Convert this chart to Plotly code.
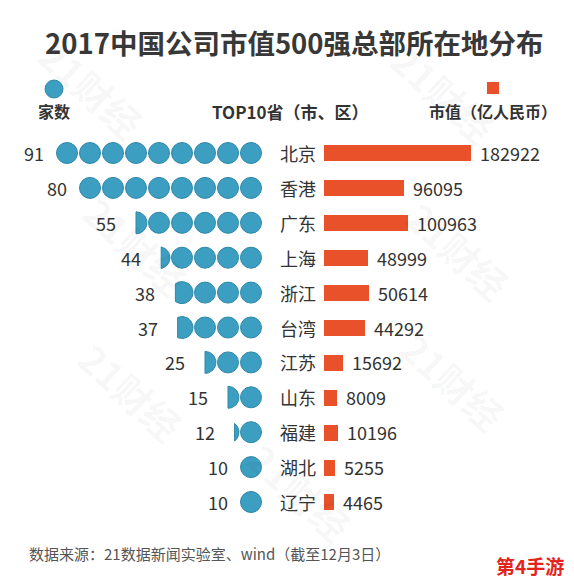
import math
import plotly.graph_objects as go

# ---------------- data ----------------
provinces = ["北京", "香港", "广东", "上海", "浙江", "台湾", "江苏", "山东", "福建", "湖北", "辽宁"]
company_counts = [91, 80, 55, 44, 38, 37, 25, 15, 12, 10, 10]
market_values = [182922, 96095, 100963, 48999, 50614, 44292, 15692, 8009, 10196, 5255, 4465]
companies_per_dot = 10

title_text = "2017中国公司市值500强总部所在地分布"
legend_count = "家数"
legend_middle = "TOP10省（市、区）"
legend_value = "市值（亿人民币）"
source_text = "数据来源：21数据新闻实验室、wind（截至12月3日）"
site_mark = "第4手游"
watermark = "21财经"

# ---------------- layout constants (pixels) ----------------
W, H = 574, 584
ROW_TOP, ROW_PITCH = 153.0, 34.9
DOT_RIGHT, DOT_PITCH, DOT_R = 262.5, 23.0, 11.0
BAR_LEFT, BAR_ZERO, BAR_PX_PER_UNIT = 324.0, 330.5, 0.000768
LABEL_X = 278.0
BLUE = "#3C9EC0"
BLUE_EDGE = "#2F88A8"
ORANGE = "#E8512A"
TXT = "#333333"
FONT = "Noto Sans CJK SC"

n = len(provinces)
rows = list(range(n))

def px_x(x):
    return x / W

def px_y(y):
    return 1 - y / H

y_dom = [px_y(ROW_TOP + (n - 0.5) * ROW_PITCH), px_y(ROW_TOP - 0.5 * ROW_PITCH)]
rx = DOT_R / DOT_PITCH          # dot radius in x-axis units
ry = DOT_R / ROW_PITCH          # dot radius in y-axis units

fig = go.Figure()

fx, fy = [], []
annotations = []
for i, c in enumerate(company_counts):
    full = c // companies_per_dot
    frac = (c % companies_per_dot) / companies_per_dot
    for k in range(full):
        fx.append(-(k + 0.5))
        fy.append(i)
    left_edge = -(full - 0.5) - rx
    gap = 10 / DOT_PITCH
    if frac >= 0.15:
        cx = -(full + 0.5)
        u0 = 1 - 2 * frac
        a = math.acos(u0)
        steps = 40
        px_, py_ = [], []
        for s in range(steps + 1):
            t = -a + 2 * a * s / steps
            px_.append(cx + rx * math.cos(t))
            py_.append(i + ry * math.sin(t))
        px_.append(px_[0]); py_.append(py_[0])
        fig.add_trace(go.Scatter(x=px_, y=py_, mode="lines", fill="toself",
                                 fillcolor=BLUE, line=dict(color=BLUE_EDGE, width=1),
                                 hoverinfo="skip", showlegend=False,
                                 xaxis="x", yaxis="y"))
        left_edge = cx + rx * u0
        gap = 18 / DOT_PITCH
    annotations.append(dict(x=left_edge - gap, y=i, xref="x", yref="y", text=str(c),
                            showarrow=False, xanchor="right", yanchor="middle",
                            font=dict(family=FONT, size=18, color=TXT)))

fig.add_trace(go.Scatter(x=fx, y=fy, mode="markers",
                         marker=dict(size=21, color=BLUE, line=dict(color=BLUE_EDGE, width=1)),
                         hoverinfo="skip", showlegend=False, xaxis="x", yaxis="y"))

# bars (drawn from the left edge of the value axis)
x2_min = -(BAR_ZERO - BAR_LEFT) / BAR_PX_PER_UNIT
x2_max = (W - BAR_ZERO) / BAR_PX_PER_UNIT
fig.add_trace(go.Bar(x=[v - x2_min for v in market_values], base=x2_min, y=rows,
                     orientation="h", width=16 / ROW_PITCH,
                     marker=dict(color=ORANGE, line=dict(width=0)),
                     hoverinfo="skip", showlegend=False, xaxis="x2", yaxis="y"))

for i, (p, v) in enumerate(zip(provinces, market_values)):
    annotations.append(dict(x=px_x(LABEL_X), y=i, xref="paper", yref="y", text=p,
                            showarrow=False, xanchor="left", yanchor="middle",
                            font=dict(family=FONT, size=18, color=TXT)))
    annotations.append(dict(x=v, y=i, xref="x2", yref="y", text=str(v),
                            showarrow=False, xanchor="left", yanchor="middle", xshift=7,
                            font=dict(family=FONT, size=18, color=TXT)))

annotations += [
    dict(x=px_x(294), y=px_y(42), xref="paper", yref="paper", text="<b>%s</b>" % title_text,
         showarrow=False, xanchor="center", yanchor="middle",
         font=dict(family=FONT, size=27.5, color="#383838")),
    dict(x=px_x(54), y=px_y(111), xref="paper", yref="paper", text="<b>%s</b>" % legend_count,
         showarrow=False, xanchor="center", yanchor="middle",
         font=dict(family=FONT, size=16, color=TXT)),
    dict(x=px_x(290), y=px_y(111), xref="paper", yref="paper", text="<b>%s</b>" % legend_middle,
         showarrow=False, xanchor="center", yanchor="middle",
         font=dict(family=FONT, size=17, color=TXT)),
    dict(x=px_x(493), y=px_y(111), xref="paper", yref="paper", text="<b>%s</b>" % legend_value,
         showarrow=False, xanchor="center", yanchor="middle",
         font=dict(family=FONT, size=16, color=TXT)),
    dict(x=px_x(27), y=px_y(553), xref="paper", yref="paper", text=source_text,
         showarrow=False, xanchor="left", yanchor="middle",
         font=dict(family=FONT, size=15, color="#555555")),
    dict(x=px_x(530), y=px_y(565), xref="paper", yref="paper", text="<b>%s</b>" % site_mark,
         showarrow=False, xanchor="center", yanchor="middle",
         font=dict(family=FONT, size=19, color="#E3241B")),
]
for (wx, wy) in [(70, 245), (65, 455), (525, 250), (520, 445), (300, 555), (510, 30), (25, 25)]:
    annotations.append(dict(x=px_x(wx), y=px_y(wy), xref="paper", yref="paper", text="<b>%s</b>" % watermark,
                            showarrow=False, textangle=42,
                            font=dict(family=FONT, size=38, color="rgba(0,0,0,0.04)")))

shapes = [
    dict(type="circle", xref="paper", yref="paper",
         x0=px_x(54 - 9), x1=px_x(54 + 9), y0=px_y(89 + 9), y1=px_y(89 - 9),
         fillcolor=BLUE, line=dict(color=BLUE_EDGE, width=1)),
    dict(type="rect", xref="paper", yref="paper",
         x0=px_x(487), x1=px_x(499), y0=px_y(94), y1=px_y(82),
         fillcolor=ORANGE, line=dict(width=0)),
]

fig.update_layout(
    width=W, height=H, margin=dict(l=0, r=0, t=0, b=0),
    paper_bgcolor="white", plot_bgcolor="rgba(0,0,0,0)",
    xaxis=dict(domain=[0, px_x(DOT_RIGHT)], range=[-DOT_RIGHT / DOT_PITCH, 0],
               visible=False, fixedrange=True),
    xaxis2=dict(domain=[px_x(BAR_LEFT), 1], range=[x2_min, x2_max],
                visible=False, fixedrange=True, anchor="y"),
    yaxis=dict(domain=y_dom, range=[n - 0.5, -0.5], visible=False, fixedrange=True),
    annotations=annotations, shapes=shapes, bargap=0,
)

fig.write_html("out.html", config={"displayModeBar": False},
               post_script="document.body.style.margin='0';document.body.style.overflow='hidden';")
